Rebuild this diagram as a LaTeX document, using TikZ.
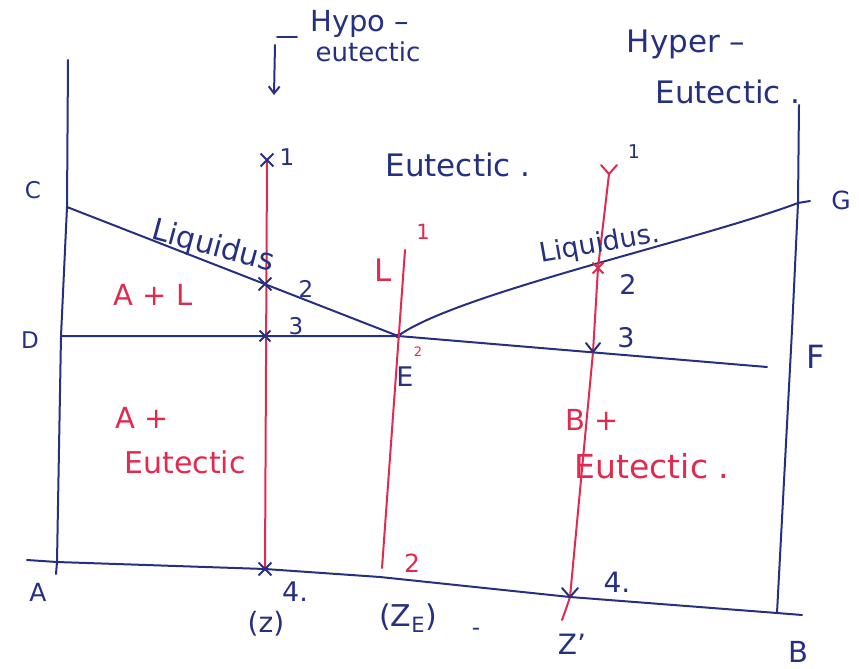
\documentclass[tikz,border=0pt]{standalone}
\usepackage{fontspec}
\setmainfont{DejaVu Sans}
\usetikzlibrary{arrows.meta,shapes.misc}
\definecolor{ink}{RGB}{38,48,128}
\definecolor{pen}{RGB}{224,42,78}
\newcommand{\fs}[1]{\fontsize{#1}{#1}\selectfont}
\begin{document}
\begin{tikzpicture}[x=1pt,y=-1pt,
  inkline/.style={ink,line width=2pt,line cap=round,line join=round},
  penline/.style={pen,line width=2pt,line cap=round,line join=round},
  inktxt/.style={text=ink,inner sep=0pt,font=\fs{29}},
  pentxt/.style={text=pen,inner sep=0pt,font=\fs{29}},
  numtxt/.style={text=ink,inner sep=0pt,font=\fs{23}},
  xmk/.style={cross out,draw=ink,line width=1.8pt,minimum size=11pt,inner sep=0pt}]
\useasboundingbox (0,0) rectangle (859,669);
% key points
\coordinate (Atop) at (68,60);
\coordinate (C) at (67,207);
\coordinate (Dp) at (61,336);
\coordinate (A) at (57,562);
\coordinate (Atail) at (56,574);
\coordinate (Al) at (27,560);
\coordinate (E) at (398,336);
\coordinate (Gtop) at (799,105);
\coordinate (G) at (798,203);
\coordinate (Gx) at (810,201);
\coordinate (Fax) at (792,330);
\coordinate (B) at (777,613);
\coordinate (Br) at (802,615);
\coordinate (Fend) at (767,367);
\coordinate (H1) at (267,160);
\coordinate (H2) at (265,284);
\coordinate (H3) at (265,336);
\coordinate (H4) at (265,569);
\coordinate (E1) at (405,250);
\coordinate (E2) at (382,568);
\coordinate (ZE) at (380,577);
\coordinate (P1) at (609,174);
\coordinate (P2) at (598,268);
\coordinate (P3) at (593,352);
\coordinate (P4) at (570,597);
\coordinate (P5) at (562,620);
% axes
\draw[inkline] (Atop) -- (C) -- (Dp) -- (A) -- (Atail);
\draw[inkline] (Gtop) -- (G) -- (Fax) -- (B);
% base line
\draw[inkline] (Al) -- (A) -- (H4) -- (ZE) -- (P4) -- (B) -- (Br);
% liquidus
\draw[inkline] (C) -- (E);
\draw[inkline] (E) .. controls (455,294) and (700,240) .. (G) -- (Gx);
% eutectic horizontal
\draw[inkline] (Dp) -- (E) -- (Fend);
\fill[ink] (E) circle (2.4pt);
% red cooling lines
\draw[penline] (H1) -- (H4);
\draw[penline] (E1) -- (E2);
\draw[penline] (P1) -- (P2) -- (P3) -- (P4) .. controls (567,606) .. (P5);
% marks on hypo line
\node[xmk] (m1) at (H1) {};
\node[xmk] (m2) at (H2) {};
\node[xmk,minimum size=9pt] (m3) at (H3) {};
\node[xmk] (m4) at (H4) {};
% marks on hyper line
\draw[penline] (601,165) -- (P1) -- (617,165);
\node[xmk,draw=pen,minimum size=9pt] (q2) at (P2) {};
\draw[inkline] (586,343) -- (P3) -- (600,343);
\draw[inkline] (562,588) -- (P4) -- (578,588);
% hypo arrow
\coordinate (hb1) at (297,37);
\coordinate (hb2) at (277,37);
\coordinate (hv1) at (275,45);
\coordinate (hv2) at (274,95);
\draw[inkline] (hb1) -- (hb2);
\draw[inkline,-{Straight Barb[length=7pt,width=11pt]}] (hv1) -- (hv2);
% texts
\node[inktxt] (thypo) at (360,24) {Hypo –};
\node[inktxt,font=\fs{26}] (teut1) at (368,52) {eutectic};
\node[inktxt,font=\fs{31}] (thyper) at (686,44) {Hyper –};
\node[inktxt,font=\fs{31}] (teut2) at (728,92) {Eutectic .};
\node[inktxt,font=\fs{31}] (teut3) at (458,165) {Eutectic .};
\node[inktxt,rotate=-15,font=\fs{30}] (tliq1) at (213,247) {Liquidus};
\node[inktxt,rotate=10,font=\fs{27}] (tliq2) at (600,245) {Liquidus.};
\node[pentxt] (tal) at (153,295) {A + L};
\node[pentxt] (tap) at (142,418) {A +};
\node[pentxt,font=\fs{30}] (tae) at (185,462) {Eutectic};
\node[pentxt] (tbp) at (592,420) {B +};
\node[pentxt,font=\fs{33}] (tbe) at (652,466) {Eutectic .};
\node[pentxt,font=\fs{31}] (tL) at (383,270) {L};
\node[text=pen,inner sep=0pt,font=\fs{21}] (tE1) at (423,232) {1};
\node[text=pen,inner sep=0pt,font=\fs{25}] (tE2) at (412,563) {2};
\node[text=pen,inner sep=0pt,font=\fs{13}] (tE2b) at (418,352) {2};
% letters
\node[numtxt] (lC) at (33,190) {C};
\node[numtxt] (lD) at (30,340) {D};
\node[numtxt,font=\fs{25}] (lA) at (38,592) {A};
\node[numtxt,font=\fs{29}] (lB) at (798,652) {B};
\node[numtxt,font=\fs{32}] (lF) at (816,357) {F};
\node[numtxt,font=\fs{25}] (lG) at (841,200) {G};
\node[numtxt,font=\fs{27}] (lE) at (405,377) {E};
% numbers
\node[numtxt] (n1) at (287,157) {1};
\node[numtxt] (n2) at (306,289) {2};
\node[numtxt] (n3) at (296,326) {3};
\node[numtxt,font=\fs{27}] (n4) at (295,592) {4.};
\node[numtxt,font=\fs{28}] (nz) at (266,624) {(z)};
\node[numtxt,font=\fs{30}] (nze) at (408,618) {(Z\textsubscript{E})};
\node[numtxt] (ndash) at (476,632) {-};
\node[numtxt,font=\fs{19}] (p1) at (634,152) {1};
\node[numtxt,font=\fs{27}] (p2) at (628,284) {2};
\node[numtxt,font=\fs{27}] (p3) at (626,338) {3};
\node[numtxt,font=\fs{28}] (p4) at (617,582) {4.};
\node[numtxt,font=\fs{28}] (pz) at (572,644) {Z'};
\end{tikzpicture}
\end{document}
